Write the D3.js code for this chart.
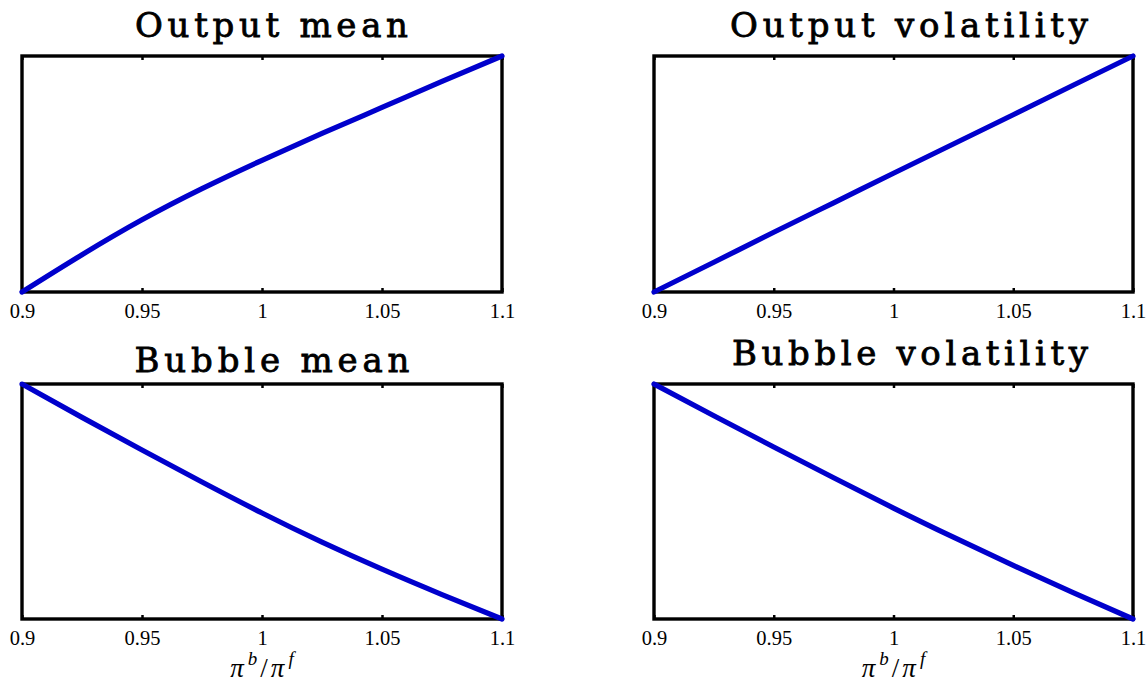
<!DOCTYPE html>
<html>
<head>
<meta charset="utf-8">
<script src="https://cdn.jsdelivr.net/npm/d3@7"></script>
<style>
    html, body { margin: 0; padding: 0; background: #fff; }
    svg { display: block; }
</style>
</head>
<body>
<div id="chart"></div>
<script>
// values (y is unlabelled, so normalised 0..1)
var piRatio = [0.9, 0.925, 0.95, 0.975, 1.0, 1.025, 1.05, 1.075, 1.1];
var outputMean = [0, 0.158, 0.306, 0.438, 0.558, 0.672, 0.782, 0.892, 1.0];
var outputVolatility = [0, 0.126, 0.253, 0.378, 0.503, 0.627, 0.751, 0.876, 1.0];
var bubbleMean = [1.0, 0.858, 0.719, 0.583, 0.451, 0.327, 0.212, 0.104, 0];
var bubbleVolatility = [1.0, 0.865, 0.732, 0.601, 0.472, 0.348, 0.228, 0.112, 0];

var tickValues = [0.9, 0.95, 1, 1.05, 1.1];
var tickLabels = ["0.9", "0.95", "1", "1.05", "1.1"];
var titles = ["Output mean", "Output volatility", "Bubble mean", "Bubble volatility"];

(function () {
    'use strict';

    var width = 1146, height = 686;

    var svg = d3.select("#chart")
        .append("svg")
        .attr("width", width)
        .attr("height", height);

    // panel boxes and title placement
    var panels = [
        {values: outputMean, x0: 22, x1: 502, y0: 56, y1: 292, tx: 271.5, ty: 37, tw: 273, xlabel: false},
        {values: outputVolatility, x0: 654, x1: 1133, y0: 56, y1: 292, tx: 909, ty: 37, tw: 358, xlabel: false},
        {values: bubbleMean, x0: 22, x1: 502, y0: 384, y1: 619, tx: 272, ty: 371.5, tw: 275, xlabel: true},
        {values: bubbleVolatility, x0: 654, x1: 1133, y0: 384, y1: 619, tx: 910, ty: 365, tw: 356, xlabel: true}
    ];

    panels.forEach(function (p, i) {
        var x = d3.scaleLinear().domain([0.9, 1.1]).range([p.x0, p.x1]);
        var y = d3.scaleLinear().domain([0, 1]).range([p.y1, p.y0]);

        var g = svg.append("g").attr("class", "panel");

        // ticks pointing inward at the bottom, with labels
        var bottom = g.append("g")
            .attr("transform", "translate(0," + p.y1 + ")")
            .call(d3.axisBottom(x)
                .tickValues(tickValues)
                .tickFormat(function (d, k) { return tickLabels[k]; })
                .tickSizeInner(-4)
                .tickSizeOuter(0)
                .tickPadding(12));
        bottom.select(".domain").remove();
        bottom.selectAll("line").attr("stroke", "#000").attr("stroke-width", 2.5);
        bottom.selectAll("text")
            .attr("fill", "#000")
            .attr("y", 26)
            .attr("dy", null)
            .style("font-family", "'Liberation Serif', serif")
            .style("font-size", "20.5px");

        // ticks pointing inward at the top
        var top = g.append("g")
            .attr("transform", "translate(0," + p.y0 + ")")
            .call(d3.axisBottom(x)
                .tickValues(tickValues)
                .tickFormat("")
                .tickSizeInner(4)
                .tickSizeOuter(0));
        top.select(".domain").remove();
        top.selectAll("line").attr("stroke", "#000").attr("stroke-width", 2.5);

        g.append("rect")
            .attr("x", p.x0)
            .attr("y", p.y0)
            .attr("width", p.x1 - p.x0)
            .attr("height", p.y1 - p.y0)
            .attr("fill", "none")
            .attr("stroke", "#000")
            .attr("stroke-width", 3.4);

        var line = d3.line()
            .x(function (d, k) { return x(piRatio[k]); })
            .y(function (d) { return y(d); })
            .curve(d3.curveNatural);

        g.append("path")
            .datum(p.values)
            .attr("d", line)
            .attr("fill", "none")
            .attr("stroke", "#0000cc")
            .attr("stroke-width", 5.2)
            .attr("stroke-linecap", "round")
            .attr("stroke-linejoin", "round");

        g.append("text")
            .attr("x", p.tx)
            .attr("y", p.ty)
            .attr("text-anchor", "middle")
            .attr("textLength", p.tw)
            .attr("lengthAdjust", "spacing")
            .attr("fill", "#000")
            .attr("stroke", "#000")
            .attr("stroke-width", 0.8)
            .style("font-family", "'DejaVu Serif', serif")
            .style("font-size", "34px")
            .text(titles[i]);

        if (p.xlabel) {
            var cx = x(1);
            var lab = g.append("text")
                .attr("x", cx)
                .attr("y", 677)
                .attr("text-anchor", "middle")
                .style("font-family", "'Liberation Serif', serif")
                .style("font-style", "italic")
                .style("font-size", "27px");
            lab.append("tspan").text("\u03c0");
            lab.append("tspan").attr("dx", 4).attr("dy", -12).style("font-size", "19px").text("b");
            lab.append("tspan").attr("dx", 3).attr("dy", 12).style("font-style", "normal").text("/");
            lab.append("tspan").attr("dx", 3).text("\u03c0");
            lab.append("tspan").attr("dx", 4).attr("dy", -12).style("font-size", "19px").text("f");
        }
    });
})();
</script>
</body>
</html>
